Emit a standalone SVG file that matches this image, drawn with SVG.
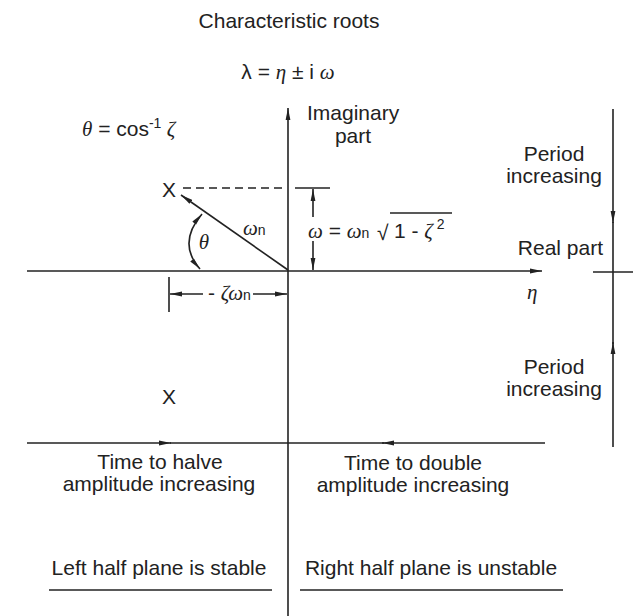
<svg xmlns="http://www.w3.org/2000/svg" width="633" height="616" viewBox="0 0 633 616">
<defs>
<marker id="ah" viewBox="0 0 12 6" refX="12" refY="3" markerWidth="12" markerHeight="6" markerUnits="userSpaceOnUse" orient="auto-start-reverse">
<path d="M0,0.6 L12,3 L0,5.4 z" fill="#222"/>
</marker>
<style>
.ln{stroke:#222;stroke-width:1.6;fill:none}
.ar{stroke:#222;stroke-width:1.6;fill:none;marker-end:url(#ah)}
.t{font-family:"Liberation Sans",Arial,sans-serif;font-size:21px;fill:#222}
.c{text-anchor:middle}
.m{font-family:"Liberation Serif","Times New Roman",serif;font-style:italic}
.sub{font-family:"Liberation Sans",Arial,sans-serif;font-size:14px;font-style:normal}
</style>
</defs>
<rect width="633" height="616" fill="#fff"/>

<g id="connectors">
<line class="ar" x1="288" y1="616" x2="288" y2="108"/>
<line class="ar" x1="27" y1="271" x2="542" y2="271"/>
<line class="ln" x1="593" y1="272" x2="633" y2="272"/>
<line class="ar" x1="613" y1="109" x2="613" y2="223"/>
<line class="ln" x1="613" y1="222" x2="613" y2="344"/>
<line class="ar" x1="613" y1="447" x2="613" y2="342"/>
<line class="ar" x1="27" y1="443" x2="171" y2="443"/>
<line class="ln" x1="170" y1="443" x2="384" y2="443"/>
<line class="ar" x1="545" y1="443" x2="382" y2="443"/>
<line class="ln" x1="183" y1="188" x2="287" y2="188" stroke-dasharray="8,5"/>
<line class="ln" x1="295" y1="188" x2="330" y2="188"/>
<line class="ar" x1="313" y1="217" x2="313" y2="189"/>
<line class="ar" x1="313" y1="241" x2="313" y2="270"/>
<line class="ln" x1="169" y1="277" x2="169" y2="312"/>
<line class="ar" x1="203" y1="294" x2="170" y2="294"/>
<line class="ar" x1="253" y1="294" x2="287" y2="294"/>
<line class="ar" x1="288" y1="270" x2="181" y2="195"/>
<path class="ln" d="M202,214 Q177,243 200,269" marker-start="url(#ah)" marker-end="url(#ah)"/>
<line class="ln" x1="390" y1="213" x2="452" y2="213"/>
<line class="ln" x1="49" y1="590" x2="272" y2="590"/>
<line class="ln" x1="300" y1="590" x2="563" y2="590"/>
</g>

<g id="title">
<text class="t c" x="289" y="28">Characteristic roots</text>
<text class="t c" x="288" y="79">λ = <tspan class="m">η</tspan> ± i <tspan class="m">ω</tspan></text>
</g>
<g id="theta-def"><text class="t" x="82" y="136"><tspan class="m">θ</tspan> = cos<tspan font-size="14" dy="-8">-1</tspan><tspan class="m" dy="8"> ζ</tspan></text></g>
<g id="imag-label">
<text class="t" x="307" y="120">Imaginary</text>
<text class="t c" x="353" y="143">part</text>
</g>
<g id="root-upper"><text class="t c" x="169" y="197" font-size="18">X</text></g>
<g id="root-lower"><text class="t c" x="169" y="404" font-size="18">X</text></g>
<g id="wn-label"><text class="t m" x="243" y="235">ω<tspan class="sub">n</tspan></text></g>
<g id="theta-label"><text class="t m c" x="204" y="249" font-size="22">θ</text></g>
<g id="omega-eq"><text class="t" x="308" y="238"><tspan class="m">ω</tspan> = <tspan class="m">ω</tspan><tspan class="sub">n</tspan></text>
<text class="t" x="377" y="240" font-size="26">√</text>
<text class="t" x="394" y="238">1 - <tspan class="m">ζ</tspan><tspan font-size="14" dy="-9"> 2</tspan></text></g>
<g id="zeta-wn"><text class="t" x="208" y="300">- <tspan class="m">ζω</tspan><tspan class="sub">n</tspan></text></g>
<g id="period-top">
<text class="t c" x="554" y="161">Period</text>
<text class="t c" x="554" y="183">increasing</text>
</g>
<g id="real-label">
<text class="t" x="603" y="255" text-anchor="end">Real part</text>
<text class="t m" x="527" y="299">η</text>
</g>
<g id="period-bottom">
<text class="t c" x="554" y="374">Period</text>
<text class="t c" x="554" y="396">increasing</text>
</g>
<g id="halve">
<text class="t c" x="160" y="469">Time to halve</text>
<text class="t c" x="159" y="491">amplitude increasing</text>
</g>
<g id="double">
<text class="t c" x="413" y="470">Time to double</text>
<text class="t c" x="413" y="492">amplitude increasing</text>
</g>
<g id="stability">
<text class="t c" x="159" y="575">Left half plane is stable</text>
<text class="t c" x="431" y="575">Right half plane is unstable</text>
</g>
</svg>
